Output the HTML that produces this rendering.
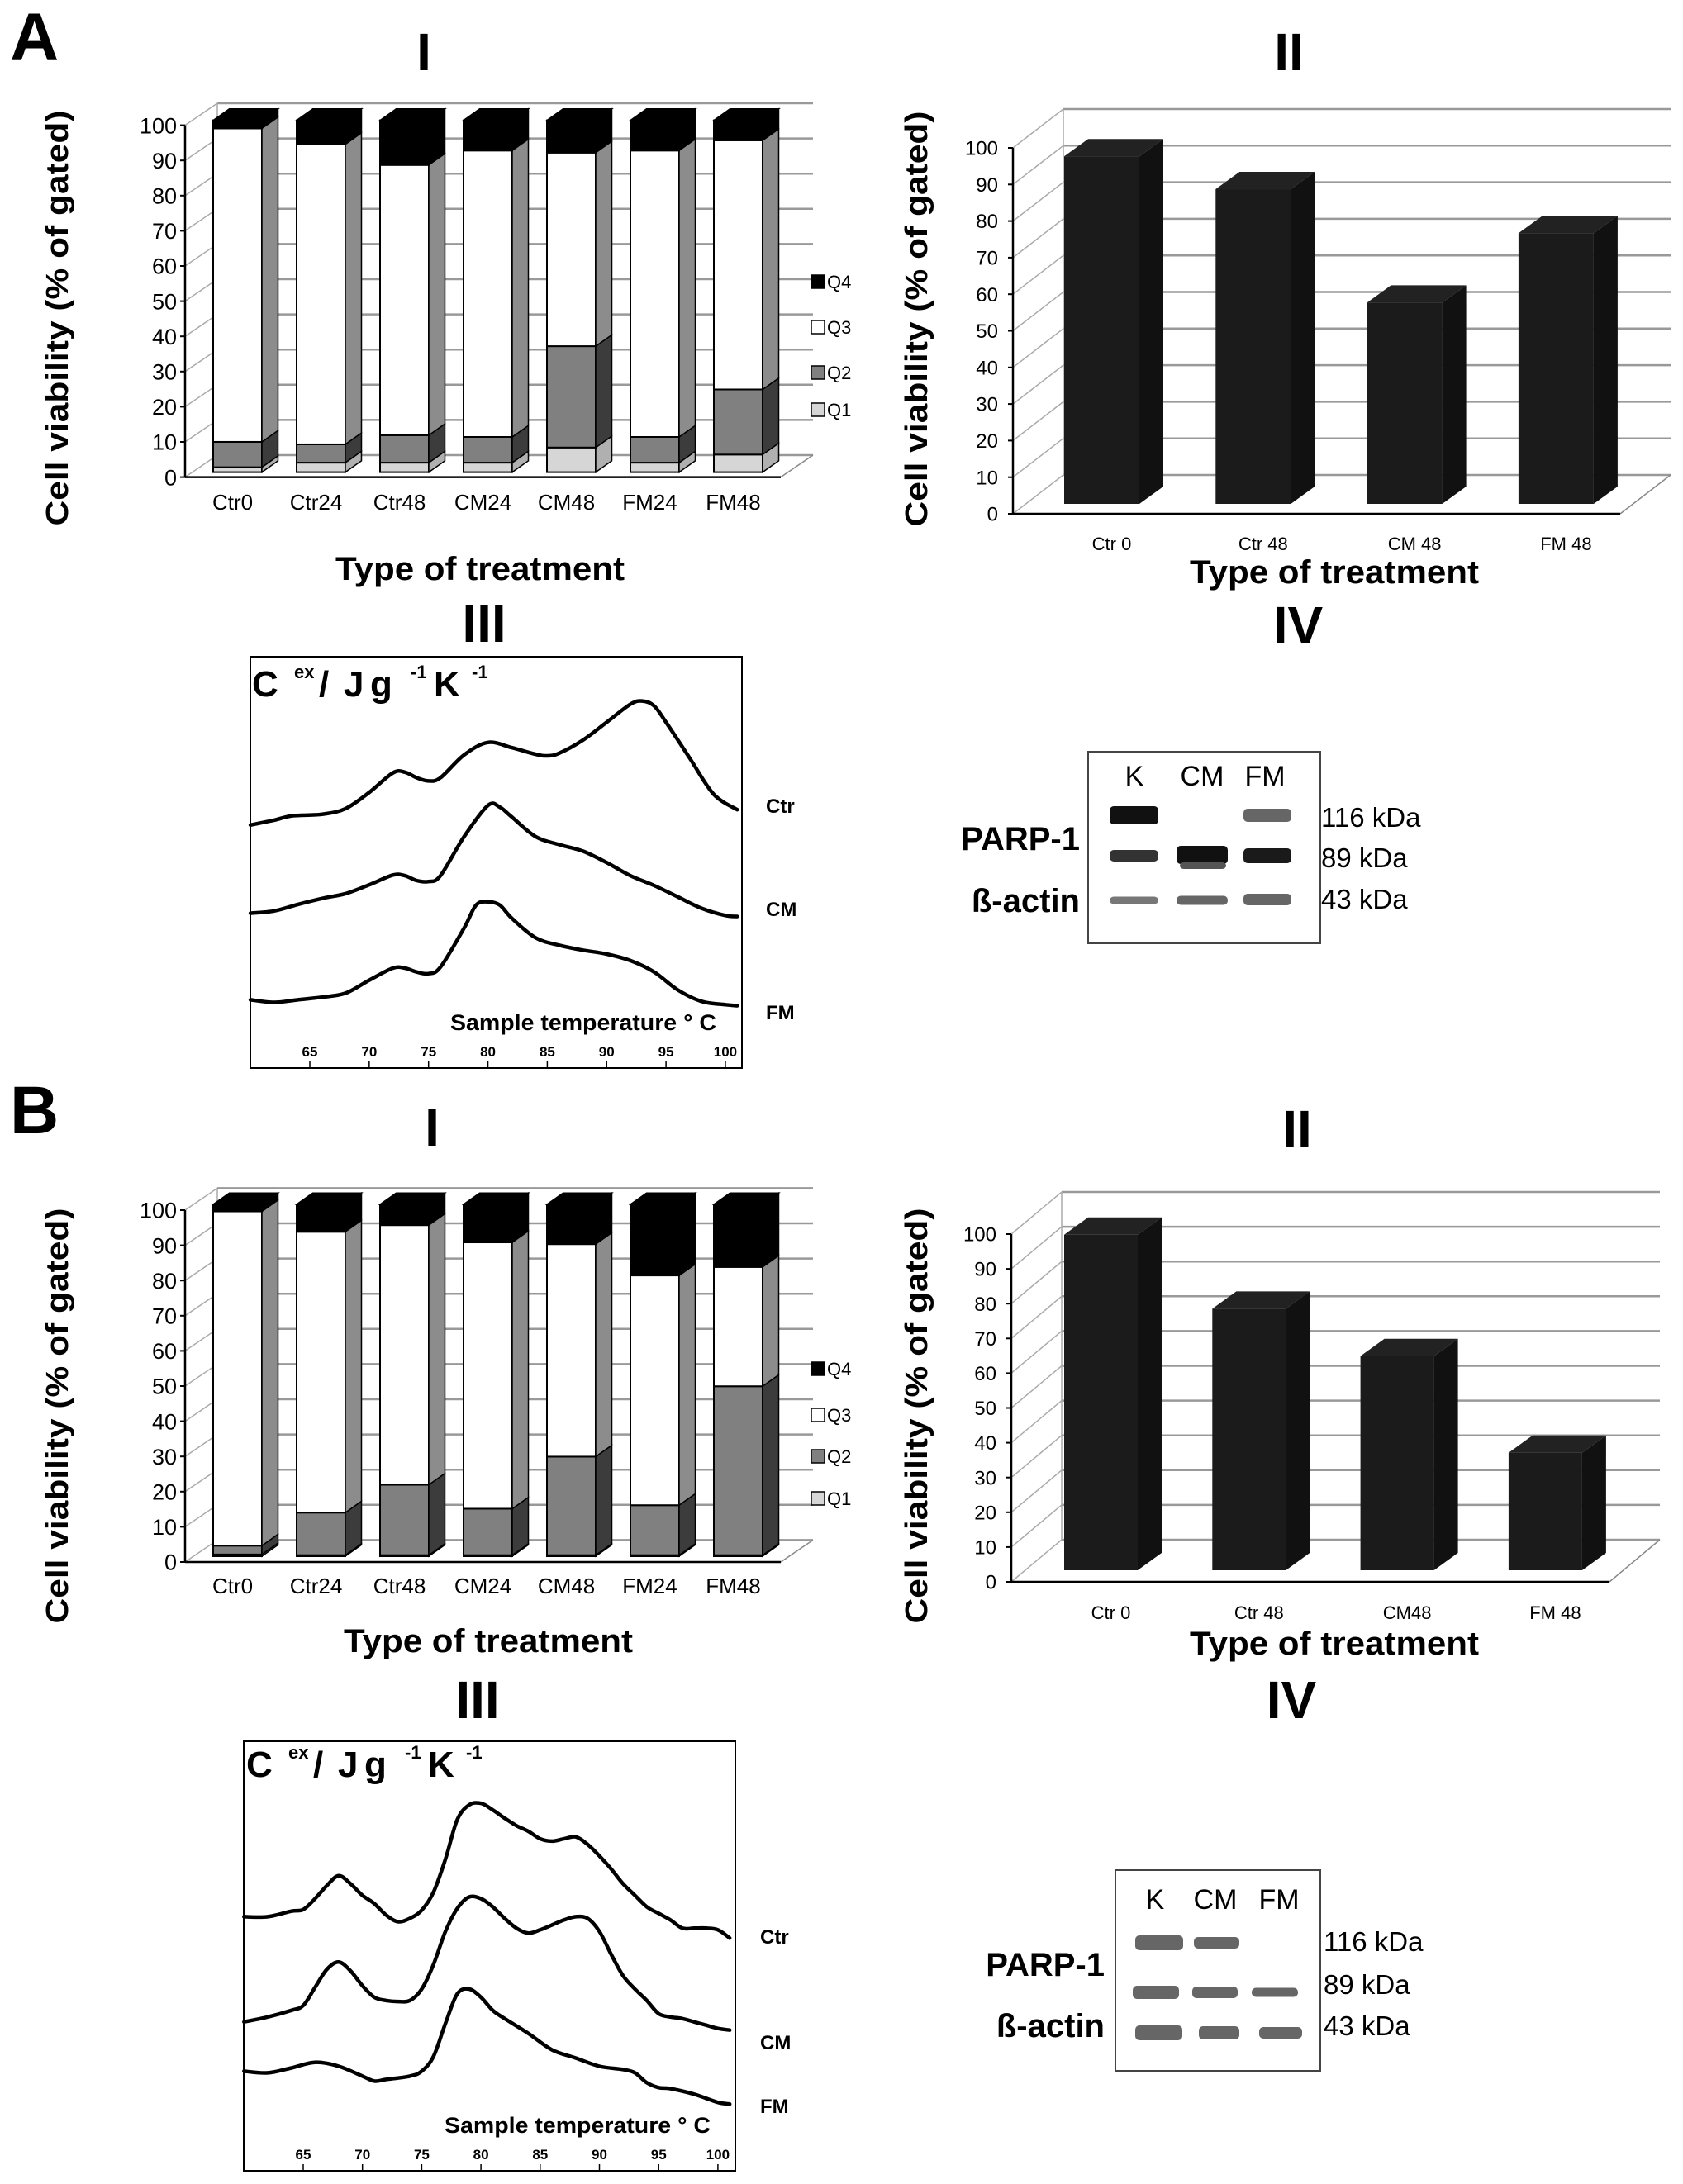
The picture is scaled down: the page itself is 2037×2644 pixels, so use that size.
<!DOCTYPE html>
<html><head><meta charset="utf-8"><style>
html,body{margin:0;padding:0;background:#fff;}
svg{display:block;}
text{font-family:"Liberation Sans",sans-serif;}
</style></head><body>
<svg id="fig" width="2037" height="2644" viewBox="0 0 2037 2644" xmlns="http://www.w3.org/2000/svg"></svg>
<script>
// ---------- DATA ----------
const catsA1=["Ctr0","Ctr24","Ctr48","CM24","CM48","FM24","FM48"];
const a1Q1=[1.4,2.7,2.7,2.7,7,2.7,5];
const a1Q2=[7.2,5.2,7.8,7.3,28.8,7.3,18.5];
const a1Q3=[89.1,85.3,76.8,81.4,55,81.4,70.8];
const a1Q4=[2.3,6.8,12.7,8.6,9.2,8.6,5.7];
const catsB1=["Ctr0","Ctr24","Ctr48","CM24","CM48","FM24","FM48"];
const b1Q1=[0.5,0.3,0.3,0.3,0.3,0.3,0.3];
const b1Q2=[2.5,12.1,20,13.2,28,14.2,48];
const b1Q3=[95,79.8,73.8,75.7,60.4,65.3,33.9];
const b1Q4=[2,7.8,5.9,10.8,11.3,20.2,17.8];
const catsA2=["Ctr 0","Ctr 48","CM 48","FM 48"];
const valsA2=[95,86,55,74];
const catsB2=["Ctr 0","Ctr 48","CM48","FM 48"];
const valsB2=[96.5,75.2,61.6,33.8];
const yTicks=[0,10,20,30,40,50,60,70,80,90,100];
const tTicks=[65,70,75,80,85,90,95,100];
const legendLabels=["Q4","Q3","Q2","Q1"];
// DSC curves (temperature °C, excess heat capacity in arbitrary units)
const tA3Ctr=[60,62,63.5,66,68,70,72,73,74,75,76,78,80,82,84,85,86,88,90,92,93,94,95,97,99,101];
const vA3Ctr=[74.3,75.8,77.1,77.6,79.3,84.3,90.3,90.5,88.8,87.8,88.8,95.8,99.6,98,96,95.5,96.3,100.3,105.8,111.3,112.3,110.8,105.8,94.8,83.8,79];
const tA3CM=[60,62,64,66,68,70,72,73,74,75,76,78,80,81,82,84,86,88,90,92,94,96,98,100,101];
const vA3CM=[47.3,48,50,51.8,53.3,56,59,58.8,57.3,57,58.8,70.8,80.3,79.8,76.8,70.8,68.3,66.3,62.8,58.8,55.8,52.3,48.8,46.6,46.3];
const tA3FM=[60,62,64,66,68,70,72,73,74,75,76,78,79,80,81,82,84,86,88,90,92,94,96,98,100,101];
const vA3FM=[20.8,20,20.8,21.6,22.8,26.8,30.5,30.5,29.3,28.8,30.8,42.8,49.8,50.8,49.8,45.8,39.8,37.5,36,34.8,32.8,29.3,23.8,20.3,19.3,19];
const tB3Ctr=[60,62,64,65,66,67,68,69,70,71,72,73,74,75,76,77,78,79,80,81,82,83,84,85,86,87,88,89,90,91,92,93,94,95,96,97,98,99,100,101];
const vB3Ctr=[77.3,77.3,79,79.5,82.8,86.8,89.8,87.3,83.8,81.3,77.8,75.8,76.8,79.3,84.8,94.8,106.8,111.3,111.8,109.8,107.3,105,103.3,101,100.3,101,101.6,99.3,95.8,91.8,87.3,83.8,80.3,78.3,76.3,73.8,73.8,73.8,73.3,70.8];
const tB3CM=[60,62,64,65,66,67,68,69,70,71,72,73,74,75,76,77,78,79,80,81,82,83,84,85,86,87,88,89,90,91,92,93,94,95,96,97,98,99,100,101];
const vB3CM=[45.3,46.8,48.8,50.3,55.8,61.3,63.5,60.8,56.3,52.8,51.8,51.5,51.8,55.3,62.8,72.8,79.8,83.3,82.8,80.3,76.8,73.8,72.3,73.3,74.8,76.3,77.3,76.8,72.8,65.8,59.3,55.3,51.8,47.8,46.8,46.3,45.3,44.3,43.3,42.8];
const tB3FM=[60,62,64,66,68,70,71,72,74,75,76,77,78,79,80,81,82,84,86,88,90,92,93,94,95,96,98,100,101];
const vB3FM=[30.3,29.8,31.3,33,31.8,28.8,27.3,27.8,28.8,30.3,34.8,44.8,53.8,55.3,52.8,48.8,46.3,41.8,36.8,34.3,31.8,30.8,29.8,26.8,25.3,25,23.3,20.8,20.3];

// ---------- HELPERS ----------
const NS='http://www.w3.org/2000/svg';
const svg=document.getElementById('fig');
function mk(tag,attrs,parent){const e=document.createElementNS(NS,tag);for(const k in attrs)e.setAttribute(k,attrs[k]);(parent||svg).appendChild(e);return e;}
function tx(str,attrs,parent){const e=mk('text',attrs,parent);e.textContent=str;return e;}
function grp(name){const g=mk('g',{});
return g;}
function pts(a){return a.map(p=>p[0].toFixed(1)+','+p[1].toFixed(1)).join(' ');}

// ---------- PANEL LETTERS & TITLES ----------
function label(str,x,y,size,anchor,name,weight,extra){
  const a={x:x,y:y,'font-size':size,'text-anchor':anchor||'start','font-weight':weight||'bold'};
  if(extra)for(const k in extra)a[k]=extra[k];
  const t=tx(str,a);
  
  
  return t;
}
label('A',12,73,82,'start','panel-a-letter');
label('B',12,1372,82,'start','panel-b-letter');
label('I',513,85,64,'middle','a-i-title',null,{'font-family':'Liberation Sans Narrow, Liberation Sans, sans-serif'});
label('II',1560,85,64,'middle','a-ii-title',null,{'font-family':'Liberation Sans Narrow, Liberation Sans, sans-serif'});
label('III',586,777,64,'middle','a-iii-title',null,{'font-family':'Liberation Sans Narrow, Liberation Sans, sans-serif'});
label('IV',1571,779,64,'middle','a-iv-title',null,{'font-family':'Liberation Sans Narrow, Liberation Sans, sans-serif'});
label('I',523,1387,64,'middle','b-i-title',null,{'font-family':'Liberation Sans Narrow, Liberation Sans, sans-serif'});
label('II',1570,1389,64,'middle','b-ii-title',null,{'font-family':'Liberation Sans Narrow, Liberation Sans, sans-serif'});
label('III',578,2080,64,'middle','b-iii-title',null,{'font-family':'Liberation Sans Narrow, Liberation Sans, sans-serif'});
label('IV',1563,2080,64,'middle','b-iv-title',null,{'font-family':'Liberation Sans Narrow, Liberation Sans, sans-serif'});

// ---------- 3D WALLS ----------
function walls(g,c){
  const bx=c.ax+c.bdx, right=c.right;
  yTicks.forEach(v=>{
    const yf=c.y0-v*c.unit, yb=yf+c.bdy;
    const l=mk('line',{x1:bx,y1:yb,x2:right+c.bdx,y2:yb,stroke:'#999','stroke-width':2.5},g);
    
    
    const d=mk('line',{x1:c.ax,y1:yf,x2:bx,y2:yb,stroke:'#aaa','stroke-width':1.5},g);
    
    
  });
  const bl=mk('line',{x1:bx,y1:c.y0+c.bdy,x2:bx,y2:c.y0+c.bdy-100*c.unit,stroke:'#aaa','stroke-width':1.5},g);
  
  
  const fr=mk('line',{x1:right,y1:c.y0,x2:right+c.bdx,y2:c.y0+c.bdy,stroke:'#888','stroke-width':1.5},g);
  
  
  const ya=mk('line',{x1:c.ax,y1:c.y0-100*c.unit,x2:c.ax,y2:c.y0,stroke:'#000','stroke-width':2.5},g);
  
  
  const xa=mk('line',{x1:c.ax,y1:c.y0,x2:right,y2:c.y0,stroke:'#000','stroke-width':2.5},g);
  
  
  yTicks.forEach(v=>{
    const y=c.y0-v*c.unit;
    const tk=mk('line',{x1:c.ax-6,y1:y,x2:c.ax,y2:y,stroke:'#000','stroke-width':2},g);
    
    
    const t=tx(String(v),{x:c.ax-c.tickGap,y:y+c.tickFs*0.36,'font-size':c.tickFs,'text-anchor':'end'},g);
    
    
  });
}
function axisTitles(g,c){
  const yt=tx('Cell viability (% of gated)',{x:0,y:0,'font-size':38,'font-weight':'bold','text-anchor':'middle',textLength:503,lengthAdjust:'spacingAndGlyphs',transform:'translate('+c.ytx+','+c.yty+') rotate(-90)'},g);
  
  
  const xt=tx('Type of treatment',{x:c.xtx,y:c.xty,'font-size':40,'font-weight':'bold','text-anchor':'middle',textLength:350,lengthAdjust:'spacingAndGlyphs'},g);
  
  
}

// ---------- STACKED 3D BAR CHART ----------
const FRONT=['#d6d6d6','#808080','#ffffff','#000000'];
const SIDE=['#b0b0b0','#3c3c3c','#8c8c8c','#000000'];
function stacked(name,c,cats,q1,q2,q3,q4){
  const g=grp(name);
  walls(g,c);
  const series=[q1,q2,q3,q4];
  cats.forEach((cat,i)=>{
    const x=c.bx0+i*c.step;
    let acc=0;
    series.forEach((s,k)=>{
      const v=s[i];
      const yb=c.base-acc*c.unit, yt=c.base-(acc+v)*c.unit;
      const r=mk('rect',{x:x,y:yt,width:c.bw,height:Math.max(0,yb-yt),fill:FRONT[k],stroke:'#000','stroke-width':2},g);
      
      
      const sd=mk('polygon',{points:pts([[x+c.bw,yb],[x+c.bw+c.ddx,yb+c.ddy],[x+c.bw+c.ddx,yt+c.ddy],[x+c.bw,yt]]),fill:SIDE[k],stroke:'#000','stroke-width':1.5},g);
      
      
      acc+=v;
    });
    const yt=c.base-acc*c.unit;
    const tp=mk('polygon',{points:pts([[x,yt],[x+c.ddx,yt+c.ddy],[x+c.bw+c.ddx,yt+c.ddy],[x+c.bw,yt]]),fill:'#000',stroke:'#000','stroke-width':1.5},g);
    
    
    const lb=tx(cat,{x:x+c.bw/2-6,y:c.labY,'font-size':26,'text-anchor':'middle'},g);
    
    
  });
  legendLabels.forEach((L,k)=>{
    const y=c.legY[k];
    const sq=mk('rect',{x:982,y:y-8,width:16,height:16,fill:FRONT[3-k],stroke:'#000','stroke-width':1.5},g);
    
    
    const t=tx(L,{x:1001,y:y+8,'font-size':22},g);
    
    
  });
  axisTitles(g,c);
}
stacked('chart-a-i',{ax:224,y0:577.6,unit:4.26,bdx:39,bdy:-26.6,right:945,bx0:258,bw:59,step:101,base:571.6,ddx:19.5,ddy:-13.8,tickGap:10,tickFs:27,labY:617,legY:[341,396,451,496],ytx:82,yty:385,xtx:581,xty:702},catsA1,a1Q1,a1Q2,a1Q3,a1Q4);
stacked('chart-b-i',{ax:224,y0:1891,unit:4.26,bdx:39,bdy:-26.6,right:945,bx0:258,bw:59,step:101,base:1884,ddx:19.5,ddy:-13.8,tickGap:10,tickFs:27,labY:1929,legY:[1657,1713,1763,1814],ytx:82,yty:1714,xtx:591,xty:2000},catsB1,b1Q1,b1Q2,b1Q3,b1Q4);

// ---------- SIMPLE 3D BAR CHART ----------
function bars3d(name,c,cats,vals){
  const g=grp(name);
  walls(g,c);
  cats.forEach((cat,i)=>{
    const x=c.bx0+i*c.step, yt=c.base-vals[i]*c.unit;
    const r=mk('rect',{x:x,y:yt,width:c.bw,height:c.base-yt,fill:'#1b1b1b'},g);
    
    
    const sd=mk('polygon',{points:pts([[x+c.bw,c.base],[x+c.bw+c.ddx,c.base+c.ddy],[x+c.bw+c.ddx,yt+c.ddy],[x+c.bw,yt]]),fill:'#111'},g);
    
    
    const tp=mk('polygon',{points:pts([[x,yt],[x+c.ddx,yt+c.ddy],[x+c.bw+c.ddx,yt+c.ddy],[x+c.bw,yt]]),fill:'#222'},g);
    
    
    const lb=tx(cat,{x:x+c.bw/2+12,y:c.labY,'font-size':22,'text-anchor':'middle'},g);
    
    
  });
  axisTitles(g,c);
}
bars3d('chart-a-ii',{ax:1226,y0:622,unit:4.43,bdx:61,bdy:-47,right:1961,bx0:1288,bw:91,step:183.3,base:610,ddx:29,ddy:-21,tickGap:18,tickFs:24,labY:666,ytx:1122,yty:386,xtx:1615,xty:706},catsA2,valsA2);
bars3d('chart-b-ii',{ax:1224,y0:1915,unit:4.21,bdx:61,bdy:-51,right:1948,bx0:1288,bw:89,step:179.3,base:1901,ddx:29,ddy:-21,tickGap:18,tickFs:24,labY:1960,ytx:1122,yty:1714,xtx:1615,xty:2003},catsB2,valsB2);

// ---------- DSC CURVE CHARTS ----------
function smoothPath(P){
  let d='M'+P[0][0].toFixed(1)+','+P[0][1].toFixed(1);
  for(let i=0;i<P.length-1;i++){
    const p0=P[i-1]||P[i],p1=P[i],p2=P[i+1],p3=P[i+2]||p2;
    const c1=[p1[0]+(p2[0]-p0[0])/6,p1[1]+(p2[1]-p0[1])/6];
    const c2=[p2[0]-(p3[0]-p1[0])/6,p2[1]-(p3[1]-p1[1])/6];
    d+=' C'+c1[0].toFixed(1)+','+c1[1].toFixed(1)+' '+c2[0].toFixed(1)+','+c2[1].toFixed(1)+' '+p2[0].toFixed(1)+','+p2[1].toFixed(1);
  }
  return d;
}
function dsc(name,c,curves){
  const g=grp(name);
  const xT=T=>c.x65+(T-65)*c.kx;
  const yV=v=>c.yb-v*c.ky;
  const box=mk('rect',{x:c.bx1,y:c.by1,width:c.bx2-c.bx1,height:c.by2-c.by1,fill:'none',stroke:'#000','stroke-width':2},g);
  
  
  tTicks.forEach(T=>{
    const tk=mk('line',{x1:xT(T),y1:c.by2,x2:xT(T),y2:c.by2-8,stroke:'#000','stroke-width':1.5},g);
    
    
    const t=tx(String(T),{x:xT(T),y:c.tickY,'font-size':17,'font-weight':'bold','text-anchor':'middle'},g);
    
    
  });
  const st=tx('Sample temperature ° C',{x:c.stx,y:c.sty,'font-size':27,'font-weight':'bold',textLength:322,lengthAdjust:'spacingAndGlyphs'},g);
  
  
  const parts=[['C',0,0,44],['ex',51,-22,22],['/',81,0,44],['J',111,0,44],['g',143,0,44],['-1',192,-22,22],['K',220,0,44],['-1',266,-22,22]];
  parts.forEach((p,k)=>{
    const t=tx(p[0],{x:c.ulx+p[1],y:c.uly+p[2],'font-size':p[3],'font-weight':'bold'},g);
    
    
  });
  curves.forEach(cv=>{
    const P=cv.t.map((T,i)=>[xT(T),yV(cv.v[i])]);
    const p=mk('path',{d:smoothPath(P),fill:'none',stroke:'#000','stroke-width':4.5,'stroke-linejoin':'round','stroke-linecap':'round'},g);
    
    
    const t=tx(cv.n,{x:c.lx,y:cv.ly,'font-size':24,'font-weight':'bold'},g);
    
    
  });
}
dsc('chart-a-iii',{x65:375,kx:14.37,yb:1292.6,ky:3.954,bx1:303,by1:795,bx2:898,by2:1293,tickY:1279,stx:545,sty:1247,ulx:305,uly:843,lx:927},
  [{n:'Ctr',t:tA3Ctr,v:vA3Ctr,ly:984},{n:'CM',t:tA3CM,v:vA3CM,ly:1109},{n:'FM',t:tA3FM,v:vA3FM,ly:1234}]);
dsc('chart-b-iii',{x65:367,kx:14.34,yb:2628,ky:3.979,bx1:295,by1:2108,bx2:890,by2:2628,tickY:2614,stx:538,sty:2582,ulx:298,uly:2151,lx:920},
  [{n:'Ctr',t:tB3Ctr,v:vB3Ctr,ly:2353},{n:'CM',t:tB3CM,v:vB3CM,ly:2481},{n:'FM',t:tB3FM,v:vB3FM,ly:2558}]);

// ---------- WESTERN BLOTS ----------
function blot(name,c,bands){
  const g=grp(name);
  const fr=mk('rect',{x:c.x1,y:c.y1,width:c.x2-c.x1,height:c.y2-c.y1,fill:'#fff',stroke:'#444','stroke-width':2},g);
  
  
  ['K','CM','FM'].forEach((L,k)=>{
    const t=tx(L,{x:c.lanes[k],y:c.laneY,'font-size':34,'text-anchor':'middle'},g);
    
    
  });
  bands.forEach((b,k)=>{
    const r=mk('rect',{x:b[0],y:b[1]-b[3]/2,width:b[2]-b[0],height:b[3],rx:5,fill:b[4]},g);
    
    
  });
  [['116 kDa',c.k1],['89 kDa',c.k2],['43 kDa',c.k3]].forEach((m,k)=>{
    const t=tx(m[0],{x:c.kx,y:m[1]+12,'font-size':33},g);
    
    
  });
  const p=tx('PARP-1',{x:c.px,y:c.py+14,'font-size':40,'font-weight':'bold','text-anchor':'end'},g);
  
  
  const a=tx('ß-actin',{x:c.px,y:c.ay+14,'font-size':40,'font-weight':'bold','text-anchor':'end'},g);
  
  
}
blot('blot-a-iv',{x1:1317,y1:910,x2:1598,y2:1142,lanes:[1373,1455,1531],laneY:951,kx:1599,k1:989,k2:1038,k3:1088,px:1307,py:1015,ay:1090},
  [[1343,987,1402,22,'#111'],[1505,987,1563,16,'#666'],[1343,1036,1402,14,'#333'],[1424,1035,1486,22,'#111'],[1428,1048,1484,8,'#555'],[1505,1036,1563,18,'#1a1a1a'],
   [1343,1090,1402,9,'#777'],[1424,1090,1486,11,'#666'],[1505,1089,1563,14,'#666']]);
blot('blot-b-iv',{x1:1350,y1:2264,x2:1598,y2:2507,lanes:[1398,1471,1548],laneY:2311,kx:1602,k1:2350,k2:2402,k3:2452,px:1337,py:2378,ay:2452},
  [[1374,2352,1432,18,'#666'],[1445,2352,1500,14,'#666'],[1371,2412,1427,16,'#666'],[1443,2412,1498,14,'#666'],[1515,2412,1571,11,'#666'],
   [1374,2461,1431,18,'#666'],[1451,2461,1500,16,'#666'],[1524,2461,1576,14,'#666']]);
</script>
</body></html>
